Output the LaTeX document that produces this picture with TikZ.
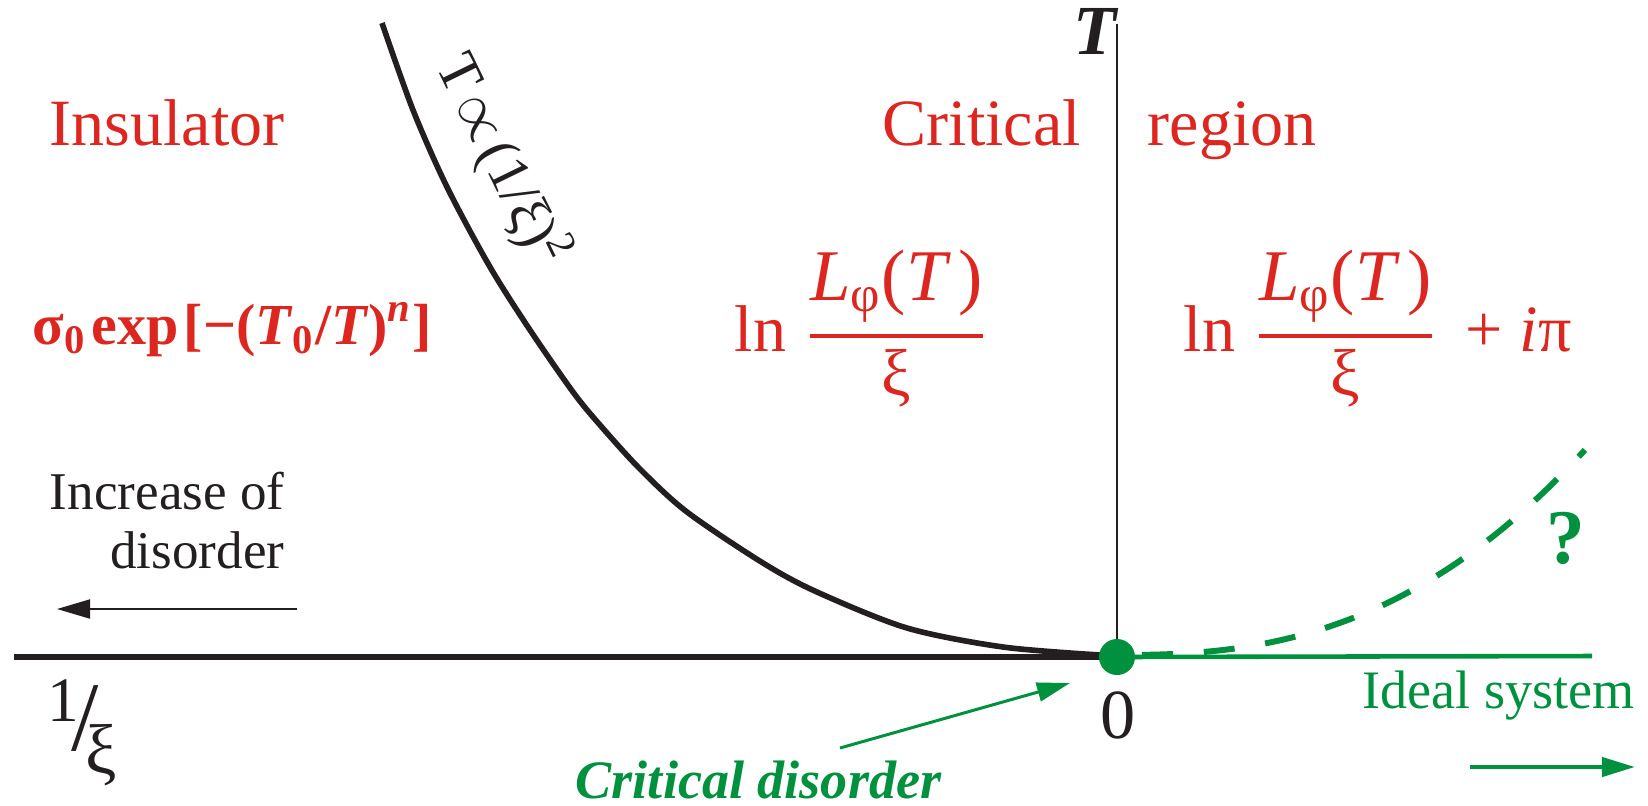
\documentclass[tikz,border=0pt]{standalone}
\usepackage{amsmath}
\usepackage{fontspec}
\setmainfont{Liberation Serif}
\usetikzlibrary{arrows.meta}
\definecolor{phasered}{RGB}{220, 38, 31}
\definecolor{phasegreen}{RGB}{0, 145, 63}
\definecolor{axisblack}{RGB}{35, 31, 32}
\newcommand{\fsz}[2]{\fontsize{#1}{#2}\selectfont}
\newcommand{\lnfrac}{ln\hspace{0.3em}$\genfrac{}{}{1.1pt}{0}{\text{\fsz{20.7}{24}\itshape L\textsubscript{\upshape φ}\upshape(\itshape T\upshape\,)}}{\text{ξ}}$}

\begin{document}
\begin{tikzpicture}[x=0.01cm, y=-0.01cm,
    redlabel/.style={text=phasered, inner sep=0pt, font=\fsz{18.8}{22}},
    greenlabel/.style={text=phasegreen, inner sep=0pt, font=\fsz{15.4}{18}},
    blacklabel/.style={text=axisblack, inner sep=0pt},
    axisline/.style={draw=axisblack, line width=1.8pt},
    curveline/.style={draw=axisblack, line width=1.6pt},
    tip/.style={-{Triangle[length=9.4pt, width=5.4pt]}},
    dot/.style={circle, fill=phasegreen, inner sep=0pt, minimum size=0.36cm}
  ]
    \useasboundingbox (0,0) rectangle (1648,805);

    % axes
    \coordinate (O) at (1117,657);
    \coordinate (xleft) at (14,657);
    \coordinate (ytop) at (1117,24);
    \coordinate (xright) at (1592,656);
    \draw[axisline] (xleft) -- (O);
    \draw[draw=axisblack, line width=0.7pt] (O) -- (ytop);
    \draw[draw=phasegreen, line width=1.3pt] (O) -- (xright);

    % crossover line T ~ (1/xi)^2
    \draw[curveline] plot[smooth] coordinates {(382,23) (413,110) (447,187) (490,267) (530,330) (573,392) (600,425) (640,469) (687,512) (763,563) (817,592) (907,628) (1003,647) (1100,655)};
    \node[blacklabel, rotate=-64, font=\fsz{16.5}{19}] (curvelabel) at (502,160) {T\kern2pt$\propto$\kern2pt(1/ξ)\textsuperscript{2}};

    % ideal system, dashed
    \draw[draw=phasegreen, line width=1.7pt, dash pattern=on 8.8pt off 8.8pt] plot[domain=0.25:4.68, samples=60] ({1117+100*\x}, {655-4.33*\x^2.5});
    \node[dot] (crit) at (O) {};

    % region names
    \node[redlabel, anchor=base west] (insul) at (49,145) {Insulator};
    \node[redlabel, anchor=base west] (critical) at (882,145) {Critical};
    \node[redlabel, anchor=base west] (region) at (1147,145) {region};

    % conductance
    \node[redlabel, anchor=base west, font=\fsz{16.5}{20}\bfseries] (hopping) at (32,344) {σ\textsubscript{0}\kern1.5pt exp\kern1.5pt[−(\textit{T}\textsubscript{0}/\textit{T})\textsuperscript{\textit{n}}]};
    \node[redlabel, anchor=west] (lncrit) at (734,329) {\lnfrac};
    \node[redlabel, anchor=west] (lnmetal) at (1183,329) {\lnfrac\hspace{0.45em}+ \textit{i}π};

    % axis labels
    \node[blacklabel] (tlabel) at (1095,31) {\fsz{20}{22}\bfseries\itshape T};
    \node[blacklabel] (zero) at (1118,715) {\fsz{20}{22}0};
    \node[blacklabel] (invxi) at (82,733) {{\fsz{18}{20}\raisebox{1.0ex}{1}}\kern-2pt{\fsz{28}{30}/}\kern-4pt{\fsz{20}{22}\raisebox{-0.7ex}{ξ}}};

    % disorder direction
    \node[blacklabel, align=right, anchor=base east, font=\fsz{15.1}{16.5}] (increase) at (285,568) {Increase of\\disorder};
    \coordinate (incr-start) at (297,609);
    \coordinate (incr-end) at (57,609);
    \draw[tip, draw=axisblack, fill=axisblack, line width=0.6pt] (incr-start) -- (incr-end);

    % green labels
    \node[greenlabel, anchor=base west, font=\fsz{15.4}{18}\bfseries\itshape] (critdis) at (575,798) {Critical disorder};
    \coordinate (critdis-start) at (840,748);
    \draw[tip, draw=phasegreen, fill=phasegreen, line width=0.85pt] (critdis-start) -- (1070,683);
    \node[greenlabel, anchor=base west] (ideal) at (1362,708) {Ideal system};
    \coordinate (ideal-start) at (1470,767);
    \coordinate (ideal-end) at (1635,767);
    \draw[tip, draw=phasegreen, fill=phasegreen, line width=1.28pt] (ideal-start) -- (ideal-end);
    \node[greenlabel] (question) at (1566,538) {\fsz{22}{24}\bfseries ?};
  \end{tikzpicture}
\end{document}
